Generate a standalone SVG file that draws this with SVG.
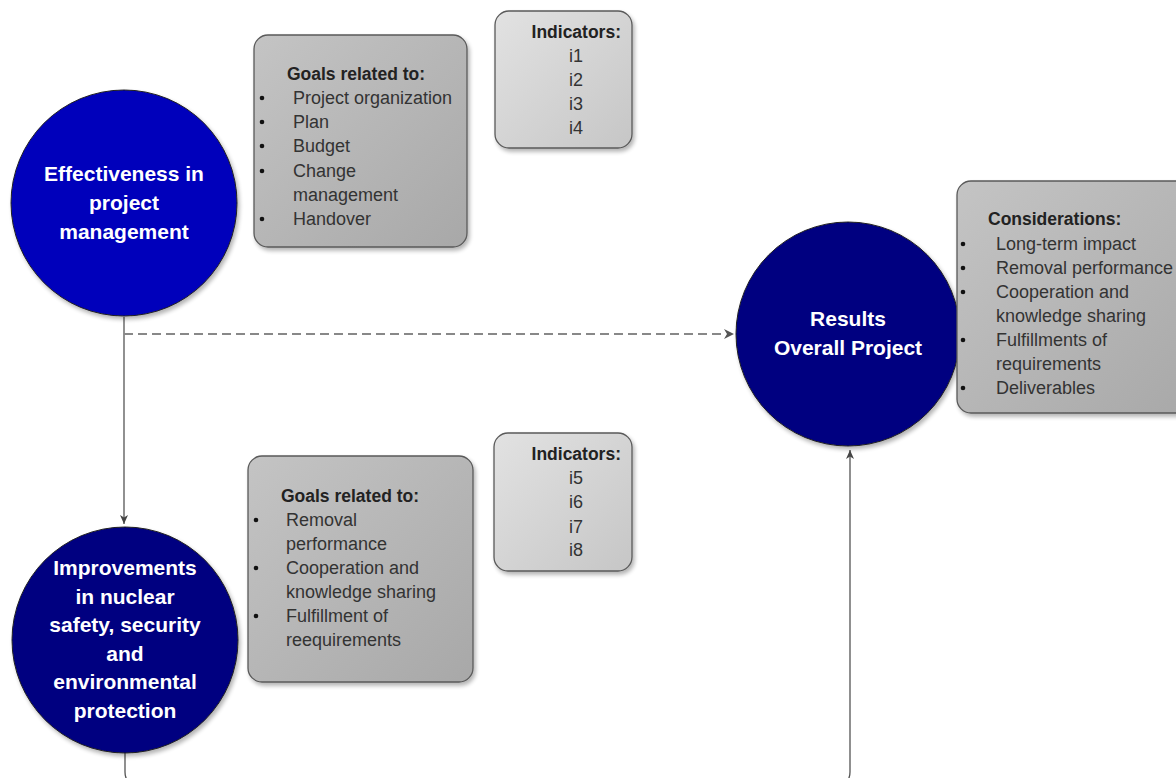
<svg xmlns="http://www.w3.org/2000/svg" width="1176" height="778" viewBox="0 0 1176 778">
<style>
.ct{font-family:"Liberation Sans",Arial,sans-serif;font-weight:bold;font-size:21px;fill:#ffffff;text-anchor:middle}
.bt{font-family:"Liberation Sans",Arial,sans-serif;font-size:18px;fill:#333333}
.bh{font-family:"Liberation Sans",Arial,sans-serif;font-size:17.5px;font-weight:bold;fill:#222222}
.mid{text-anchor:middle}
.box{stroke:#5a5a5a;stroke-width:1.3}
.circ{stroke:#222;stroke-width:1}
.conn{fill:none;stroke:#555;stroke-width:1.3}
.dash{fill:none;stroke:#888;stroke-width:2;stroke-dasharray:9,5}
</style>
<defs>
<linearGradient id="gDark" x1="0" y1="0" x2="1" y2="1">
<stop offset="0" stop-color="#c4c4c4"/><stop offset="1" stop-color="#a8a8a8"/>
</linearGradient>
<linearGradient id="gLight" x1="0" y1="0" x2="1" y2="1">
<stop offset="0" stop-color="#e2e2e2"/><stop offset="1" stop-color="#c6c6c6"/>
</linearGradient>
<filter id="sh" x="-10%" y="-10%" width="125%" height="125%">
<feGaussianBlur in="SourceAlpha" stdDeviation="2"/>
<feOffset dx="2" dy="3" result="b"/>
<feComponentTransfer><feFuncA type="linear" slope="0.3"/></feComponentTransfer>
<feMerge><feMergeNode/><feMergeNode in="SourceGraphic"/></feMerge>
</filter>
<marker id="arr" markerWidth="10" markerHeight="10" refX="9" refY="5" orient="auto" markerUnits="userSpaceOnUse">
<path d="M0,1 L9,5 L0,9 L2.5,5 Z" fill="#444"/>
</marker>
</defs>

<g id="connectors">
<path class="conn" d="M124,317 V524" marker-end="url(#arr)"/>
<path class="dash" d="M124,334 H726"/>
<path d="M724,329 L734,334 L724,339 L727,334 Z" fill="#555"/>
<path class="conn" d="M125,753 V772 Q125,784 137,784 H838 Q850,784 850,772 V450" marker-end="url(#arr)"/>
</g>

<g id="node-effectiveness">
<circle class="circ" cx="124" cy="203" r="113" fill="#0000bb" filter="url(#sh)"/>
<text class="ct" x="124" y="181">Effectiveness in</text>
<text class="ct" x="124" y="210">project</text>
<text class="ct" x="124" y="239">management</text>
</g>

<g id="node-improvements">
<circle class="circ" cx="125" cy="640" r="113" fill="#000080" filter="url(#sh)"/>
<text class="ct" x="125" y="575">Improvements</text>
<text class="ct" x="125" y="604">in nuclear</text>
<text class="ct" x="125" y="632">safety, security</text>
<text class="ct" x="125" y="661">and</text>
<text class="ct" x="125" y="689">environmental</text>
<text class="ct" x="125" y="718">protection</text>
</g>

<g id="node-results">
<circle class="circ" cx="848" cy="334" r="112" fill="#000080" filter="url(#sh)"/>
<text class="ct" x="848" y="326">Results</text>
<text class="ct" x="848" y="355">Overall Project</text>
</g>

<g id="node-goals1">
<rect class="box" x="254" y="35" width="213" height="212" rx="14" fill="url(#gDark)" filter="url(#sh)"/>
<text class="bh mid" x="356" y="80">Goals related to:</text>
<g class="bt">
<circle cx="262" cy="98" r="2.3" fill="#111"/><text x="293" y="104">Project organization</text>
<circle cx="262" cy="122" r="2.3" fill="#111"/><text x="293" y="128">Plan</text>
<circle cx="262" cy="146" r="2.3" fill="#111"/><text x="293" y="152">Budget</text>
<circle cx="262" cy="171" r="2.3" fill="#111"/><text x="293" y="177">Change</text>
<text x="293" y="201">management</text>
<circle cx="262" cy="219" r="2.3" fill="#111"/><text x="293" y="225">Handover</text>
</g>
</g>

<g id="node-indicators1">
<rect class="box" x="495" y="11" width="137" height="137" rx="14" fill="url(#gLight)" filter="url(#sh)"/>
<text class="bh" x="621" y="38" text-anchor="end">Indicators:</text>
<g class="bt mid">
<text x="576" y="62">i1</text>
<text x="576" y="86">i2</text>
<text x="576" y="110">i3</text>
<text x="576" y="134">i4</text>
</g>
</g>

<g id="node-goals2">
<rect class="box" x="248" y="456" width="225" height="226" rx="14" fill="url(#gDark)" filter="url(#sh)"/>
<text class="bh mid" x="350" y="502">Goals related to:</text>
<g class="bt">
<circle cx="256" cy="520" r="2.3" fill="#111"/><text x="286" y="526">Removal</text>
<text x="286" y="550">performance</text>
<circle cx="256" cy="568" r="2.3" fill="#111"/><text x="286" y="574">Cooperation and</text>
<text x="286" y="598">knowledge sharing</text>
<circle cx="256" cy="616" r="2.3" fill="#111"/><text x="286" y="622">Fulfillment of</text>
<text x="286" y="646">reequirements</text>
</g>
</g>

<g id="node-indicators2">
<rect class="box" x="494" y="433" width="138" height="138" rx="14" fill="url(#gLight)" filter="url(#sh)"/>
<text class="bh" x="621" y="460" text-anchor="end">Indicators:</text>
<g class="bt mid">
<text x="576" y="484">i5</text>
<text x="576" y="508">i6</text>
<text x="576" y="533">i7</text>
<text x="576" y="556">i8</text>
</g>
</g>

<g id="node-considerations">
<rect class="box" x="957" y="181" width="240" height="232" rx="14" fill="url(#gDark)" filter="url(#sh)"/>
<text class="bh" x="988" y="225">Considerations:</text>
<g class="bt">
<circle cx="963" cy="244" r="2.3" fill="#111"/><text x="996" y="250">Long-term impact</text>
<circle cx="963" cy="268" r="2.3" fill="#111"/><text x="996" y="274">Removal performance</text>
<circle cx="963" cy="292" r="2.3" fill="#111"/><text x="996" y="298">Cooperation and</text>
<text x="996" y="322">knowledge sharing</text>
<circle cx="963" cy="340" r="2.3" fill="#111"/><text x="996" y="346">Fulfillments of</text>
<text x="996" y="370">requirements</text>
<circle cx="963" cy="388" r="2.3" fill="#111"/><text x="996" y="394">Deliverables</text>
</g>
</g>
</svg>
